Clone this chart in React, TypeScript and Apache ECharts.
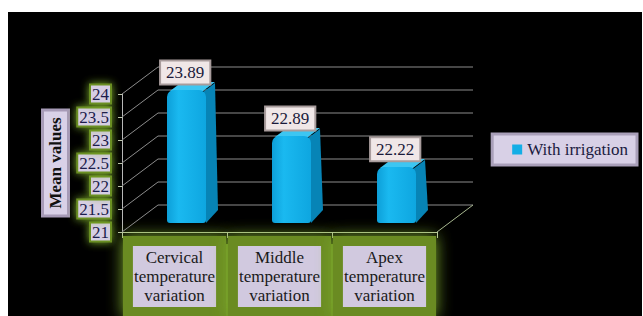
import React, { useEffect, useRef } from "react";
import * as echarts from "echarts";

const categories = [
  "Cervical\ntemperature\nvariation",
  "Middle\ntemperature\nvariation",
  "Apex\ntemperature\nvariation",
];
const withIrrigation = [23.89, 22.89, 22.22];
const yTicks = [21, 21.5, 22, 22.5, 23, 23.5, 24];
const seriesName = "With irrigation";
const axisTitle = "Mean values";

const Y_MIN = 21;
const Y_MAX = 24;
const WALL_DX = 36;
const WALL_DY = -27;
const BAR_DX = 12;
const BAR_DY = -9;
const BAR_W = 39;
const FONT = "'Liberation Serif', 'Times New Roman', serif";

export default function App() {
  const ref = useRef<HTMLDivElement>(null);

  useEffect(() => {
    if (!ref.current) return;
    const chart = echarts.init(ref.current, null, { renderer: "svg" });

    const option: any = {
      animation: false,
      backgroundColor: "transparent",
      graphic: [
        {
          type: "rect",
          z: -10,
          silent: true,
          shape: { x: 205, y: 244, width: 150, height: 80 },
          style: { fill: "#6a8b22" },
        },
      ],
      legend: {
        data: [seriesName],
        right: 6,
        top: 134,
        orient: "vertical",
        icon: "rect",
        itemWidth: 10,
        itemHeight: 10,
        itemGap: 4,
        backgroundColor: "#d8d0e6",
        borderColor: "#a99fb9",
        borderWidth: 3,
        padding: [7, 9, 7, 20],
        textStyle: { fontFamily: FONT, fontSize: 17, color: "#1a1a40" },
      },
      grid: { left: 122, right: 206, top: 94, bottom: 84, containLabel: false, outerBoundsMode: "none" },
      xAxis: {
        type: "category",
        data: categories,
        boundaryGap: true,
        axisLine: { show: true, lineStyle: { color: "#c2d0aa", width: 1 } },
        axisTick: { show: true, alignWithLabel: false, length: 6, lineStyle: { color: "#c8d4b4" } },
        splitLine: { show: false },
        axisLabel: {
          interval: 0,
          margin: 14,
          fontFamily: FONT,
          fontSize: 17,
          lineHeight: 19,
          color: "#1a1a1a",
          backgroundColor: "#d1c9df",
          borderColor: "#6a8b22",
          borderWidth: 10,
          padding: [2, 1, 2, 1],
          shadowBlur: 16,
          shadowColor: "#7ba82a",
        },
      },
      yAxis: {
        type: "value",
        min: Y_MIN,
        max: Y_MAX,
        interval: 0.5,
        name: axisTitle,
        nameLocation: "middle",
        nameRotate: 90,
        nameGap: 55,
        nameTextStyle: {
          fontFamily: FONT,
          fontSize: 17,
          fontWeight: "bold",
          color: "#111111",
          backgroundColor: "#d9d1e7",
          borderColor: "#a79bb7",
          borderWidth: 3,
          padding: [3, 6, 3, 6],
        },
        axisLine: { show: true, lineStyle: { color: "#b8b8b8", width: 1 } },
        axisTick: { show: true, length: 4, lineStyle: { color: "#c0c8b0" } },
        splitLine: { show: false },
        axisLabel: {
          margin: 12,
          fontFamily: FONT,
          fontSize: 17,
          color: "#1c1c4c",
          backgroundColor: "#d6cee3",
          borderColor: "#6b8f22",
          borderWidth: 2,
          padding: [0, 1, 0, 1],
          shadowBlur: 8,
          shadowColor: "#7fb02c",
        },
      },
      series: [
        {
          type: "custom",
          name: "walls",
          silent: true,
          data: yTicks.map((v) => [0, v]),
          encode: { x: 0, y: 1 },
          renderItem: (params: any, api: any) => {
            const v = api.value(1);
            const cs = params.coordSys;
            const y = api.coord([0, v])[1];
            const x0 = cs.x;
            const x1 = cs.x + cs.width;
            const stroke = { stroke: "#8c8c8c", lineWidth: 1 };
            const children: any[] = [
              { type: "line", shape: { x1: x0, y1: y, x2: x0 + WALL_DX, y2: y + WALL_DY }, style: stroke },
              {
                type: "line",
                shape: { x1: x0 + WALL_DX, y1: y + WALL_DY, x2: x1 + WALL_DX, y2: y + WALL_DY },
                style: stroke,
              },
            ];
            if (v === Y_MIN) {
              children.push({
                type: "line",
                shape: { x1: x1, y1: y, x2: x1 + WALL_DX, y2: y + WALL_DY },
                style: { stroke: "#a8b890", lineWidth: 1 },
              });
            }
            return { type: "group", children };
          },
          z: 1,
        },
        {
          type: "custom",
          name: seriesName,
          itemStyle: { color: "#14aee6" },
          data: withIrrigation.map((v, i) => [i, v]),
          encode: { x: 0, y: 1 },
          renderItem: (params: any, api: any) => {
            const idx = api.value(0);
            const v = api.value(1);
            const base = api.coord([idx, Y_MIN]);
            const top = api.coord([idx, v]);
            const cx = base[0] + BAR_DX;
            const L = cx - BAR_W / 2;
            const R = cx + BAR_W / 2;
            const T = top[1] + BAR_DY;
            const B = base[1] + BAR_DY;
            const d = BAR_DX;
            const e = BAR_DY;
            return {
              type: "group",
              children: [
                {
                  type: "polygon",
                  shape: { points: [[R - 3, T + 2], [R + d - 3, T + e + 2], [R + d, B + e - 4], [R, B]] },
                  style: { fill: "#0784b6" },
                },
                {
                  type: "polygon",
                  shape: { points: [[L + 3, T + 1], [L + d + 3, T + e + 1], [R + d - 3, T + e + 1], [R - 3, T + 1]] },
                  style: { fill: "#3cc6f2" },
                },
                {
                  type: "rect",
                  shape: { x: L, y: T, width: BAR_W, height: B - T, r: [7, 7, 3, 3] },
                  style: {
                    fill: new echarts.graphic.LinearGradient(0, 0, 1, 0, [
                      { offset: 0, color: "#0d9fd8" },
                      { offset: 0.3, color: "#1ab9f0" },
                      { offset: 1, color: "#0ea6e0" },
                    ]),
                  },
                },
                {
                  type: "text",
                  style: {
                    text: v.toFixed(2),
                    x: top[0] + 10.7,
                    y: top[1] - 26.6,
                    align: "center",
                    verticalAlign: "middle",
                    fontFamily: FONT,
                    fontSize: 17,
                    fill: "#1a1a3a",
                    backgroundColor: "#f0e7e7",
                    borderColor: "#a89c9c",
                    borderWidth: 2,
                    padding: [3, 5, 2, 5],
                  },
                },
              ],
            };
          },
          z: 2,
        },
      ],
    };

    chart.setOption(option);
    return () => chart.dispose();
  }, []);

  return (
    <div style={{ position: "fixed", left: 0, top: 0, width: 643, height: 316, background: "#ffffff" }}>
      <div style={{ position: "absolute", left: 8, top: 12, width: 634, height: 304, background: "#000000" }} />
      <div ref={ref} style={{ position: "absolute", left: 0, top: 0, width: 643, height: 316 }} />
    </div>
  );
}
